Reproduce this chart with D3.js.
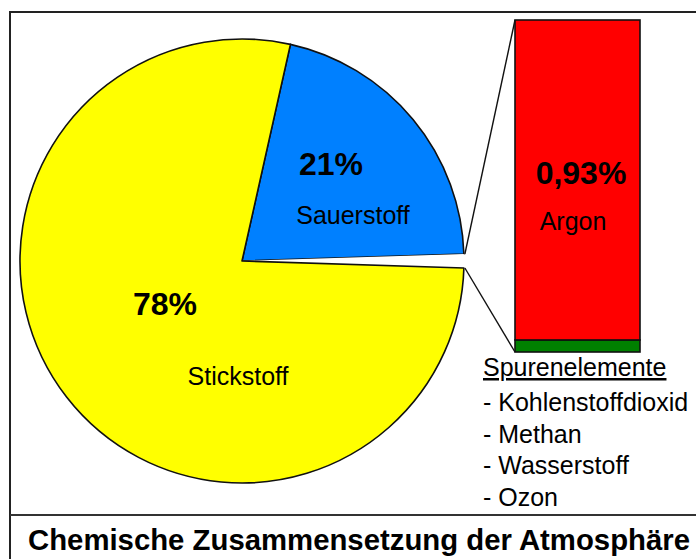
<!DOCTYPE html>
<html>
<head>
<meta charset="utf-8">
<script src="https://cdn.jsdelivr.net/npm/d3@7"></script>
<style>
  body { margin: 0; background: #fff; }
  svg { display: block; font-family: "Liberation Sans", Arial, sans-serif; }
</style>
</head>
<body>
<svg id="canvas" width="696" height="559"></svg>
<script>
// pie: main gases, the small rest is cut out and shown as a bar
let pieNames = ['Sauerstoff', 'Rest', 'Stickstoff']
let pieValues = [21, 1, 78]
let pieLabels = ['21%', '', '78%']
let pieColors = ['#0080ff', '#ffffff', '#ffff00']

// bar: composition of the rest (bottom to top)
let barNames = ['Spurenelemente', 'Argon']
let barValues = [0.035, 0.93]
let barColors = ['#008000', '#ff0000']

let traceGases = ['Kohlenstoffdioxid', 'Methan', 'Wasserstoff', 'Ozon']
let title = 'Chemische Zusammensetzung der Atmosphäre'

let canvas = d3.select('#canvas')

// frame
canvas.append('path')
    .attr('d', 'M10,559 V12 H696')
    .attr('fill', 'none')
    .attr('stroke', '#222')
    .attr('stroke-width', 2)
canvas.append('line')
    .attr('x1', 10).attr('x2', 696)
    .attr('y1', 515).attr('y2', 515)
    .attr('stroke', '#333')
    .attr('stroke-width', 2)

// pie
let cx = 242, cy = 261, r = 222
let startDeg = 12.6
let pie = d3.pie()
    .sort(null)
    .value(d => d)
    .startAngle(startDeg * Math.PI / 180)
    .endAngle(startDeg * Math.PI / 180 + 2 * Math.PI)
let arcs = pie(pieValues)
let arc = d3.arc().innerRadius(0).outerRadius(r)

let pieG = canvas.append('g').attr('transform', `translate(${cx},${cy})`)
pieG.selectAll('path')
    .data(arcs)
    .enter()
    .append('path')
    .attr('d', arc)
    .attr('fill', (d, i) => pieColors[i])
    .attr('stroke', (d, i) => pieNames[i] === 'Rest' ? 'none' : '#111')
    .attr('stroke-width', 1.6)
    .attr('stroke-linejoin', 'round')

// bar
let barX = 515, barW = 125
let total = d3.sum(barValues)
let y = d3.scaleLinear().domain([0, total]).range([352, 20])
let stacked = d3.cumsum(barValues)

canvas.selectAll('rect.bar')
    .data(barValues)
    .enter()
    .append('rect')
    .attr('class', 'bar')
    .attr('x', barX)
    .attr('width', barW)
    .attr('y', (d, i) => y(stacked[i]))
    .attr('height', (d, i) => y(stacked[i] - d) - y(stacked[i]))
    .attr('fill', (d, i) => barColors[i])
    .attr('stroke', '#111')
    .attr('stroke-width', 1.6)

// connector lines from the cut-out slice to the bar
let rest = arcs[pieNames.indexOf('Rest')]
let edge = (a) => [cx + (r + 1) * Math.sin(a), cy - (r + 1) * Math.cos(a)]
let connectors = [
    [edge(rest.startAngle), [barX, y(total)]],
    [edge(rest.endAngle), [barX, y(0)]]
]
canvas.selectAll('line.conn')
    .data(connectors)
    .enter()
    .append('line')
    .attr('class', 'conn')
    .attr('x1', d => d[0][0]).attr('y1', d => d[0][1])
    .attr('x2', d => d[1][0]).attr('y2', d => d[1][1])
    .attr('stroke', '#111')
    .attr('stroke-width', 1.4)

// labels
let pctFmt = v => String(v).replace('.', ',') + '%'
let textLabels = [
    {t: pieLabels[0], x: 331, y: 175, bold: true},
    {t: pieNames[0], x: 353, y: 224, bold: false},
    {t: pieLabels[2], x: 165, y: 315, bold: true},
    {t: pieNames[2], x: 238, y: 385, bold: false},
    {t: pctFmt(barValues[1]), x: 581, y: 184, bold: true},
    {t: barNames[1], x: 573, y: 230, bold: false}
]
canvas.selectAll('text.lbl')
    .data(textLabels)
    .enter()
    .append('text')
    .attr('class', 'lbl')
    .attr('x', d => d.x)
    .attr('y', d => d.y)
    .attr('text-anchor', 'middle')
    .attr('font-size', d => d.bold ? 32 : 25)
    .attr('font-weight', d => d.bold ? 'bold' : 'normal')
    .attr('fill', '#000')
    .text(d => d.t)

// trace elements list
let legX = 483
canvas.append('text')
    .attr('x', legX).attr('y', 376)
    .attr('font-size', 25)
    .attr('text-decoration', 'underline')
    .text(barNames[0])
canvas.selectAll('text.gas')
    .data(traceGases)
    .enter()
    .append('text')
    .attr('class', 'gas')
    .attr('x', legX)
    .attr('y', (d, i) => 411 + i * 31.7)
    .attr('font-size', 25)
    .text(d => '- ' + d)

// title
canvas.append('text')
    .attr('x', 28).attr('y', 550)
    .attr('font-size', 29)
    .attr('font-weight', 'bold')
    .attr('textLength', 662)
    .attr('lengthAdjust', 'spacingAndGlyphs')
    .text(title)
</script>
</body>
</html>
